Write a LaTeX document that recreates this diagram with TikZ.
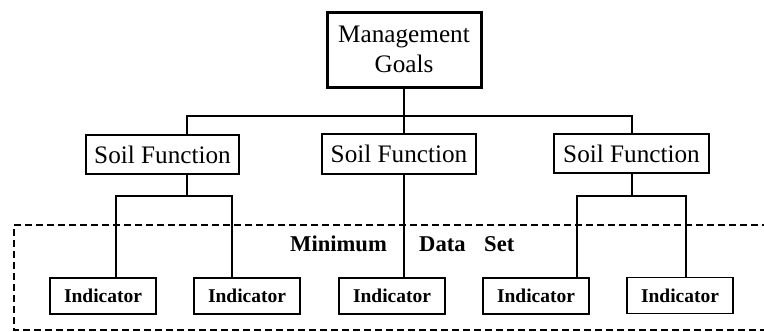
\documentclass[tikz,border=0pt]{standalone}
\usepackage{fontspec}
\setmainfont{Liberation Serif}
\begin{document}
\begin{tikzpicture}[x=1pt,y=-1pt,
  sfbox/.style={draw,line width=1.4pt,inner sep=0pt,font=\fontsize{25.2}{27}\selectfont},
  indbox/.style={draw,line width=1.4pt,inner sep=0pt,minimum width=106pt,minimum height=36pt,font=\fontsize{19.5}{21}\selectfont\bfseries},
  conn/.style={line width=2.3pt},
  mdsbox/.style={dashed,dash pattern=on 7pt off 4pt,line width=2.2pt},
  mdslabel/.style={font=\fontsize{22.6}{24}\selectfont\bfseries,inner sep=0pt}]
\useasboundingbox (0,0) rectangle (764,332);
% dashed minimum data set region
\draw[mdsbox] (780,225) -- (14,225) -- (14,330) -- (780,330);
% nodes
\node[draw,line width=3pt,inner sep=0pt,minimum width=154pt,minimum height=75pt,align=center,
  font=\fontsize{25.2}{30}\selectfont] (mg) at (404,49.5) {Management\\Goals};
\node[sfbox,minimum width=153pt,minimum height=39pt] (sf1) at (162.5,154.5) {Soil Function};
\node[sfbox,minimum width=154pt,minimum height=40pt] (sf2) at (399,154) {Soil Function};
\node[sfbox,minimum width=155pt,minimum height=39pt] (sf3) at (631.5,153.5) {Soil Function};
\node[indbox] (i1) at (103,296) {Indicator};
\node[indbox] (i2) at (247,296) {Indicator};
\node[indbox] (i3) at (392,296) {Indicator};
\node[indbox] (i4) at (536,296) {Indicator};
\node[indbox] (i5) at (680,295.5) {Indicator};
\node[mdslabel,anchor=west] (m1) at (290,244) {Minimum};
\node[mdslabel,anchor=west] (m2) at (419,244) {Data};
\node[mdslabel,anchor=west] (m3) at (484,244) {Set};
% connector coordinates
\coordinate (t1) at (187,116);
\coordinate (t2) at (404,116);
\coordinate (t3) at (632,116);
\coordinate (u1) at (187,196);
\coordinate (u1a) at (116,196);
\coordinate (u1b) at (232,196);
\coordinate (u3) at (632,196);
\coordinate (u3a) at (577,196);
\coordinate (u3b) at (686,196);
% connectors
\draw[conn] (mg.south) -- (t2);
\draw[conn] (t1 |- sf1.north) -- (t1) -- (t3) -- (t3 |- sf3.north);
\draw[conn] (t2) -- (t2 |- sf2.north);
\draw[conn] (u1 |- sf1.south) -- (u1);
\draw[conn] (u1a |- i1.north) -- (u1a) -- (u1b) -- (u1b |- i2.north);
\draw[conn] (t2 |- sf2.south) -- (t2 |- i3.north);
\draw[conn] (u3 |- sf3.south) -- (u3);
\draw[conn] (u3a |- i4.north) -- (u3a) -- (u3b) -- (u3b |- i5.north);
\end{tikzpicture}
\end{document}
